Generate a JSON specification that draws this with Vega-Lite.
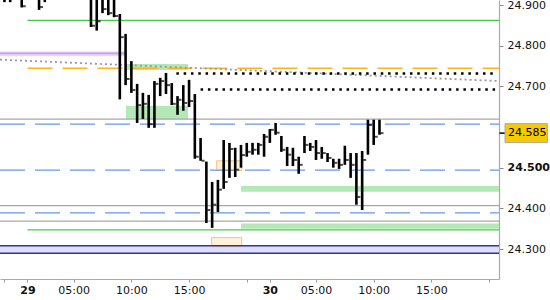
{
  "$schema": "https://vega.github.io/schema/vega-lite/v6.json",
  "width": 499,
  "height": 279,
  "autosize": {"type": "none"},
  "padding": {"left": 0, "top": 0, "right": 51, "bottom": 21},
  "background": "white",
  "config": {"view": {"stroke": null}, "font": "DejaVu Sans"},
  "datasets": {
    "bars": [
      {"t": -2.0, "high": 24.95, "low": 24.907, "close": 24.92},
      {"t": -1.5, "high": 24.95, "low": 24.907, "close": 24.92},
      {"t": -0.5, "high": 24.95, "low": 24.894, "close": 24.897},
      {"t": 1.0, "high": 24.95, "low": 24.888, "close": 24.895},
      {"t": 1.5, "high": 24.95, "low": 24.907, "close": 24.93},
      {"t": 5.5, "high": 24.95, "low": 24.846, "close": 24.849},
      {"t": 6.0, "high": 24.95, "low": 24.837, "close": 24.86},
      {"t": 6.5, "high": 24.95, "low": 24.880, "close": 24.89},
      {"t": 7.0, "high": 24.95, "low": 24.875, "close": 24.88},
      {"t": 7.5, "high": 24.95, "low": 24.870, "close": 24.873},
      {"t": 8.0, "high": 24.878, "low": 24.668, "close": 24.821},
      {"t": 8.5, "high": 24.829, "low": 24.703, "close": 24.718},
      {"t": 9.0, "high": 24.762, "low": 24.684, "close": 24.691},
      {"t": 9.5, "high": 24.706, "low": 24.610, "close": 24.654},
      {"t": 10.0, "high": 24.684, "low": 24.620, "close": 24.657},
      {"t": 10.5, "high": 24.679, "low": 24.598, "close": 24.607},
      {"t": 11.0, "high": 24.713, "low": 24.598, "close": 24.706},
      {"t": 11.5, "high": 24.721, "low": 24.676, "close": 24.713},
      {"t": 12.0, "high": 24.733, "low": 24.681, "close": 24.703},
      {"t": 12.5, "high": 24.708, "low": 24.654, "close": 24.657},
      {"t": 13.0, "high": 24.676, "low": 24.630, "close": 24.667},
      {"t": 13.5, "high": 24.703, "low": 24.640, "close": 24.659},
      {"t": 14.0, "high": 24.716, "low": 24.649, "close": 24.664},
      {"t": 14.5, "high": 24.681, "low": 24.522, "close": 24.527},
      {"t": 15.0, "high": 24.573, "low": 24.517, "close": 24.517},
      {"t": 15.5, "high": 24.515, "low": 24.364, "close": 24.396},
      {"t": 16.0, "high": 24.465, "low": 24.352, "close": 24.409},
      {"t": 16.5, "high": 24.470, "low": 24.391, "close": 24.446},
      {"t": 17.0, "high": 24.568, "low": 24.448, "close": 24.465},
      {"t": 17.5, "high": 24.561, "low": 24.475, "close": 24.546},
      {"t": 18.0, "high": 24.549, "low": 24.477, "close": 24.495},
      {"t": 18.5, "high": 24.556, "low": 24.500, "close": 24.531},
      {"t": 19.0, "high": 24.561, "low": 24.527, "close": 24.539},
      {"t": 19.5, "high": 24.561, "low": 24.532, "close": 24.544},
      {"t": 20.0, "high": 24.561, "low": 24.532, "close": 24.556},
      {"t": 20.5, "high": 24.583, "low": 24.527, "close": 24.576},
      {"t": 21.0, "high": 24.595, "low": 24.561, "close": 24.593},
      {"t": 21.5, "high": 24.610, "low": 24.581, "close": 24.586},
      {"t": 22.0, "high": 24.578, "low": 24.539, "close": 24.544},
      {"t": 22.5, "high": 24.551, "low": 24.504, "close": 24.532},
      {"t": 23.0, "high": 24.549, "low": 24.504, "close": 24.519},
      {"t": 23.5, "high": 24.527, "low": 24.485, "close": 24.507},
      {"t": 24.0, "high": 24.578, "low": 24.536, "close": 24.556},
      {"t": 24.5, "high": 24.561, "low": 24.541, "close": 24.551},
      {"t": 25.0, "high": 24.568, "low": 24.519, "close": 24.536},
      {"t": 25.5, "high": 24.551, "low": 24.522, "close": 24.536},
      {"t": 26.0, "high": 24.536, "low": 24.514, "close": 24.524},
      {"t": 26.5, "high": 24.522, "low": 24.500, "close": 24.512},
      {"t": 27.0, "high": 24.522, "low": 24.497, "close": 24.507},
      {"t": 27.5, "high": 24.554, "low": 24.507, "close": 24.519},
      {"t": 28.0, "high": 24.536, "low": 24.475, "close": 24.507},
      {"t": 28.5, "high": 24.536, "low": 24.409, "close": 24.428},
      {"t": 29.0, "high": 24.541, "low": 24.396, "close": 24.519},
      {"t": 29.5, "high": 24.618, "low": 24.532, "close": 24.605},
      {"t": 30.0, "high": 24.618, "low": 24.556, "close": 24.576},
      {"t": 30.5, "high": 24.618, "low": 24.581, "close": 24.585}
    ],
    "levels": [
      {"kind": "green", "start": 0, "end": 40.858, "price": 24.8624},
      {"kind": "green", "start": 0, "end": 40.858, "price": 24.3472},
      {"kind": "orange", "start": 0, "end": 40.858, "price": 24.7445},
      {"kind": "blue", "start": -2.383, "end": 40.858, "price": 24.6069},
      {"kind": "blue", "start": -2.383, "end": 40.858, "price": 24.4939},
      {"kind": "blue", "start": -2.383, "end": 40.858, "price": 24.389},
      {"kind": "gray", "start": -2.383, "end": 40.858, "price": 24.6192},
      {"kind": "gray", "start": -2.383, "end": 40.858, "price": 24.4069},
      {"kind": "gray", "start": -2.383, "end": 40.858, "price": 24.3686},
      {"kind": "navy", "start": -2.383, "end": 40.858, "price": 24.3079},
      {"kind": "navy", "start": -2.383, "end": 40.858, "price": 24.2899},
      {"kind": "dots", "start": 12.9, "end": 40.7, "price": 24.7317},
      {"kind": "dots", "start": 15.0, "end": 40.7, "price": 24.6924},
      {"kind": "purple", "start": -2.383, "end": 8.54, "price": 24.781}
    ],
    "trend": [
      {"start": -2.383, "end": 40.858, "p0": 24.7656, "p1": 24.713}
    ],
    "zones": [
      {"kind": "green", "t0": 8.54, "t1": 13.91, "p0": 24.740, "p1": 24.755},
      {"kind": "green", "t0": 8.54, "t1": 13.91, "p0": 24.620, "p1": 24.652},
      {"kind": "green", "t0": 18.5, "t1": 40.858, "p0": 24.441, "p1": 24.455},
      {"kind": "green", "t0": 18.5, "t1": 40.858, "p0": 24.350, "p1": 24.363},
      {"kind": "purple", "t0": -2.383, "t1": 8.54, "p0": 24.7742, "p1": 24.7858},
      {"kind": "navy", "t0": -2.383, "t1": 40.858, "p0": 24.2899, "p1": 24.3079},
      {"kind": "order", "t0": 16.39, "t1": 18.56, "p0": 24.493, "p1": 24.517},
      {"kind": "order", "t0": 15.96, "t1": 18.56, "p0": 24.306, "p1": 24.328}
    ],
    "last": [
      {"t0": 41.38, "t1": 45.05, "tick0": 40.9, "tc": 43.3, "price": 24.585, "p0": 24.5617, "p1": 24.6083, "label": "24.585"}
    ]
  },
  "layer": [
    {
      "data": {"name": "zones"},
      "transform": [{"filter": "datum.kind == 'navy'"}],
      "mark": {"type": "rect", "color": "#dedef6"},
      "encoding": {
        "x": {
          "field": "t0", "type": "quantitative",
          "scale": {"domain": [-2.383, 40.858], "nice": false, "zero": false},
          "axis": {
            "orient": "bottom",
            "title": null,
            "grid": false,
            "values": [-2, 0, 4, 9, 14, 19, 21, 25, 30, 35, 40],
            "labelExpr": "datum.value == 0 ? '29' : datum.value == 21 ? '30' : (datum.value == 4 || datum.value == 25) ? '05:00' : (datum.value == 9 || datum.value == 30) ? '10:00' : (datum.value == 14 || datum.value == 35) ? '15:00' : ''",
            "labelFont": "DejaVu Sans",
            "labelFontSize": 11,
            "labelColor": "#111111",
            "labelFontWeight": {"condition": {"test": "datum.value == 0 || datum.value == 21", "value": "bold"}, "value": "normal"},
            "labelPadding": 2,
            "labelFlush": false,
            "labelOverlap": false,
            "tickSize": 3,
            "tickColor": "#999999",
            "domainColor": "#aaaaaa",
            "domainWidth": 1.2
          }
        },
        "x2": {"field": "t1"},
        "y": {
          "field": "p0", "type": "quantitative",
          "scale": {"domain": [24.2263, 24.9123], "nice": false, "zero": false},
          "axis": {
            "orient": "right",
            "title": null,
            "grid": false,
            "values": [24.3, 24.4, 24.5, 24.7, 24.8, 24.9],
            "format": ".3f",
            "labelFont": "DejaVu Sans",
            "labelFontSize": 11,
            "labelColor": "#111111",
            "labelFontWeight": {"condition": {"test": "abs(datum.value - 24.5) < 0.001", "value": "bold"}, "value": "normal"},
            "labelPadding": 4,
            "tickSize": 4,
            "tickColor": "#888888",
            "domainColor": "#aaaaaa",
            "domainWidth": 1.2
          }
        },
        "y2": {"field": "p1"}
      }
    },
    {
      "data": {"name": "zones"},
      "transform": [{"filter": "datum.kind == 'green'"}],
      "mark": {"type": "rect", "color": "#b4e8b4"},
      "encoding": {
        "x": {"field": "t0", "type": "quantitative"},
        "x2": {"field": "t1"},
        "y": {"field": "p0", "type": "quantitative"},
        "y2": {"field": "p1"}
      }
    },
    {
      "data": {"name": "zones"},
      "transform": [{"filter": "datum.kind == 'purple'"}],
      "mark": {"type": "rect", "color": "#ecd5f7"},
      "encoding": {
        "x": {"field": "t0", "type": "quantitative"},
        "x2": {"field": "t1"},
        "y": {"field": "p0", "type": "quantitative"},
        "y2": {"field": "p1"}
      }
    },
    {
      "data": {"name": "zones"},
      "transform": [{"filter": "datum.kind == 'order'"}],
      "mark": {"type": "rect", "fill": "#fff1da", "stroke": "#f7c37e", "strokeWidth": 1},
      "encoding": {
        "x": {"field": "t0", "type": "quantitative"},
        "x2": {"field": "t1"},
        "y": {"field": "p0", "type": "quantitative"},
        "y2": {"field": "p1"}
      }
    },
    {
      "data": {"name": "levels"},
      "transform": [{"filter": "datum.kind == 'gray'"}],
      "mark": {"type": "rule", "color": "#a8a8a8", "strokeWidth": 1.2},
      "encoding": {
        "x": {"field": "start", "type": "quantitative"},
        "x2": {"field": "end"},
        "y": {"field": "price", "type": "quantitative"}
      }
    },
    {
      "data": {"name": "levels"},
      "transform": [{"filter": "datum.kind == 'navy'"}],
      "mark": {"type": "rule", "color": "#3030b0", "strokeWidth": 1.5},
      "encoding": {
        "x": {"field": "start", "type": "quantitative"},
        "x2": {"field": "end"},
        "y": {"field": "price", "type": "quantitative"}
      }
    },
    {
      "data": {"name": "levels"},
      "transform": [{"filter": "datum.kind == 'blue'"}],
      "mark": {"type": "rule", "color": "#6495f0", "strokeWidth": 1.2, "strokeDash": [25, 10]},
      "encoding": {
        "x": {"field": "start", "type": "quantitative"},
        "x2": {"field": "end"},
        "y": {"field": "price", "type": "quantitative"}
      }
    },
    {
      "data": {"name": "levels"},
      "transform": [{"filter": "datum.kind == 'green'"}],
      "mark": {"type": "rule", "color": "#44cc44", "strokeWidth": 1.3},
      "encoding": {
        "x": {"field": "start", "type": "quantitative"},
        "x2": {"field": "end"},
        "y": {"field": "price", "type": "quantitative"}
      }
    },
    {
      "data": {"name": "levels"},
      "transform": [{"filter": "datum.kind == 'orange'"}],
      "mark": {"type": "rule", "color": "#ffb31a", "strokeWidth": 1.3, "strokeDash": [25, 10]},
      "encoding": {
        "x": {"field": "start", "type": "quantitative"},
        "x2": {"field": "end"},
        "y": {"field": "price", "type": "quantitative"}
      }
    },
    {
      "data": {"name": "levels"},
      "transform": [{"filter": "datum.kind == 'purple'"}],
      "mark": {"type": "rule", "color": "#c9a0e3", "strokeWidth": 1.6},
      "encoding": {
        "x": {"field": "start", "type": "quantitative"},
        "x2": {"field": "end"},
        "y": {"field": "price", "type": "quantitative"}
      }
    },
    {
      "data": {"name": "trend"},
      "mark": {"type": "rule", "color": "#9a9a9a", "strokeWidth": 1.8, "strokeDash": [2, 3]},
      "encoding": {
        "x": {"field": "start", "type": "quantitative"},
        "x2": {"field": "end"},
        "y": {"field": "p0", "type": "quantitative"},
        "y2": {"field": "p1"}
      }
    },
    {
      "data": {"name": "levels"},
      "transform": [{"filter": "datum.kind == 'dots'"}],
      "mark": {"type": "rule", "color": "#000000", "strokeWidth": 2.5, "strokeDash": [2.5, 4.8]},
      "encoding": {
        "x": {"field": "start", "type": "quantitative"},
        "x2": {"field": "end"},
        "y": {"field": "price", "type": "quantitative"}
      }
    },
    {
      "data": {"name": "bars"},
      "mark": {"type": "rule", "color": "#000000", "strokeWidth": 2.6, "clip": true},
      "encoding": {
        "x": {"field": "t", "type": "quantitative"},
        "y": {"field": "high", "type": "quantitative"},
        "y2": {"field": "low"}
      }
    },
    {
      "data": {"name": "bars"},
      "mark": {"type": "tick", "orient": "horizontal", "color": "#000000", "size": 3, "thickness": 2, "xOffset": 2.5, "clip": true},
      "encoding": {
        "x": {"field": "t", "type": "quantitative"},
        "y": {"field": "close", "type": "quantitative"}
      }
    },
    {
      "data": {"name": "last"},
      "mark": {"type": "rule", "color": "#000000", "strokeWidth": 1.5},
      "encoding": {
        "x": {"field": "tick0", "type": "quantitative"},
        "x2": {"field": "t0"},
        "y": {"field": "price", "type": "quantitative"}
      }
    },
    {
      "data": {"name": "last"},
      "mark": {"type": "rect", "fill": "#f6c900", "stroke": "#a8a8a8", "strokeWidth": 1},
      "encoding": {
        "x": {"field": "t0", "type": "quantitative"},
        "x2": {"field": "t1"},
        "y": {"field": "p0", "type": "quantitative"},
        "y2": {"field": "p1"}
      }
    },
    {
      "data": {"name": "last"},
      "mark": {"type": "text", "font": "DejaVu Sans", "fontSize": 11, "color": "#000000", "align": "center", "baseline": "middle"},
      "encoding": {
        "x": {"field": "tc", "type": "quantitative"},
        "y": {"field": "price", "type": "quantitative"},
        "text": {"field": "label"}
      }
    }
  ]
}
